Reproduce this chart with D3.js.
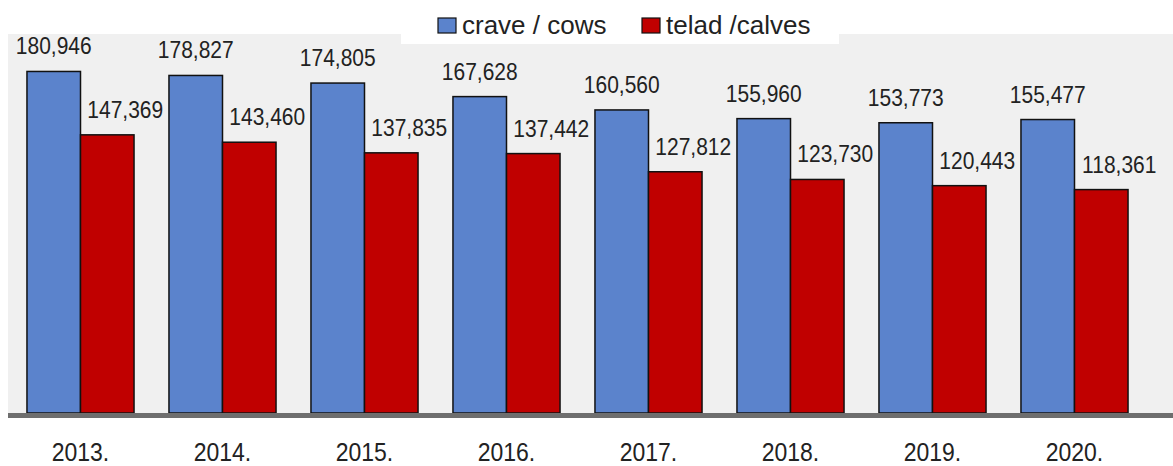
<!DOCTYPE html>
<html>
<head>
    <meta charset="utf-8" />
    <script src="https://d3js.org/d3.v7.min.js"></script>
    <title></title>
    <style>
        body { margin: 0; background: #fff; }
        text { font-family: "Liberation Sans", Arial, sans-serif; fill: #222; }
    </style>
</head>
<body>
    <svg id="chart"></svg>
    <script type="text/javascript">
        // data
        var years = ["2013.", "2014.", "2015.", "2016.", "2017.", "2018.", "2019.", "2020."];
        var cows = [180946, 178827, 174805, 167628, 160560, 155960, 153773, 155477];
        var calves = [147369, 143460, 137835, 137442, 127812, 123730, 120443, 118361];
        var seriesNames = ["crave / cows", "telad /calves"];
        var seriesColors = ["#5b83cc", "#c00000"];

        var width = 1173;
        var height = 466;
        var svg = d3.select('#chart').attr('width', width).attr('height', height);

        // plot background
        svg.append('rect')
            .attr('x', 8).attr('y', 34)
            .attr('width', width - 8).attr('height', 413 - 34)
            .attr('fill', '#f0f0f0');

        var x = d3.scaleBand()
            .domain(years)
            .range([9.5, 1145.5])
            .paddingInner(0.246)
            .paddingOuter(0.123);
        var xs = d3.scaleBand()
            .domain([0, 1])
            .range([0, x.bandwidth()]);
        var y = d3.scaleLinear()
            .domain([0, 200000])
            .range([413, 35.5]);

        var fmt = d3.format(",");
        var series = [cows, calves];
        var labelShift = [0, 18];

        series.forEach(function (vals, s) {
            var g = svg.append('g');
            g.selectAll('rect')
                .data(vals)
                .enter().append('rect')
                .attr('x', function (d, i) { return x(years[i]) + xs(s); })
                .attr('y', function (d) { return y(d); })
                .attr('width', xs.bandwidth())
                .attr('height', function (d) { return y(0) - y(d); })
                .attr('fill', seriesColors[s])
                .attr('stroke', '#111')
                .attr('stroke-width', 1.5);
            g.selectAll('text')
                .data(vals)
                .enter().append('text')
                .attr('transform', function (d, i) {
                    var cx = x(years[i]) + xs(s) + xs.bandwidth() / 2 + labelShift[s];
                    return 'translate(' + cx + ',' + (y(d) - 17) + ') scale(1,1.12)';
                })
                .attr('text-anchor', 'middle')
                .style('font-size', '21px')
                .text(function (d) { return fmt(d); });
        });

        // axis line
        svg.append('rect')
            .attr('x', 8).attr('y', 413)
            .attr('width', width - 8).attr('height', 5)
            .attr('fill', '#6e6e6e');

        svg.selectAll('.year')
            .data(years)
            .enter().append('text')
            .attr('class', 'year')
            .attr('transform', function (d) {
                return 'translate(' + (x(d) + x.bandwidth() / 2) + ',461) scale(1,1.15)';
            })
            .attr('text-anchor', 'middle')
            .style('font-size', '23px')
            .text(function (d) { return d; });

        // legend
        svg.append('rect')
            .attr('x', 401).attr('y', 0)
            .attr('width', 438).attr('height', 44)
            .attr('fill', '#fff');
        var legX = [438, 642];
        seriesNames.forEach(function (name, s) {
            svg.append('rect')
                .attr('x', legX[s]).attr('y', 18)
                .attr('width', 18).attr('height', 15)
                .attr('fill', seriesColors[s])
                .attr('stroke', '#111')
                .attr('stroke-width', 1.2);
            svg.append('text')
                .attr('x', legX[s] + 24).attr('y', 34)
                .style('font-size', '26px')
                .text(name);
        });
    </script>
</body>
</html>
